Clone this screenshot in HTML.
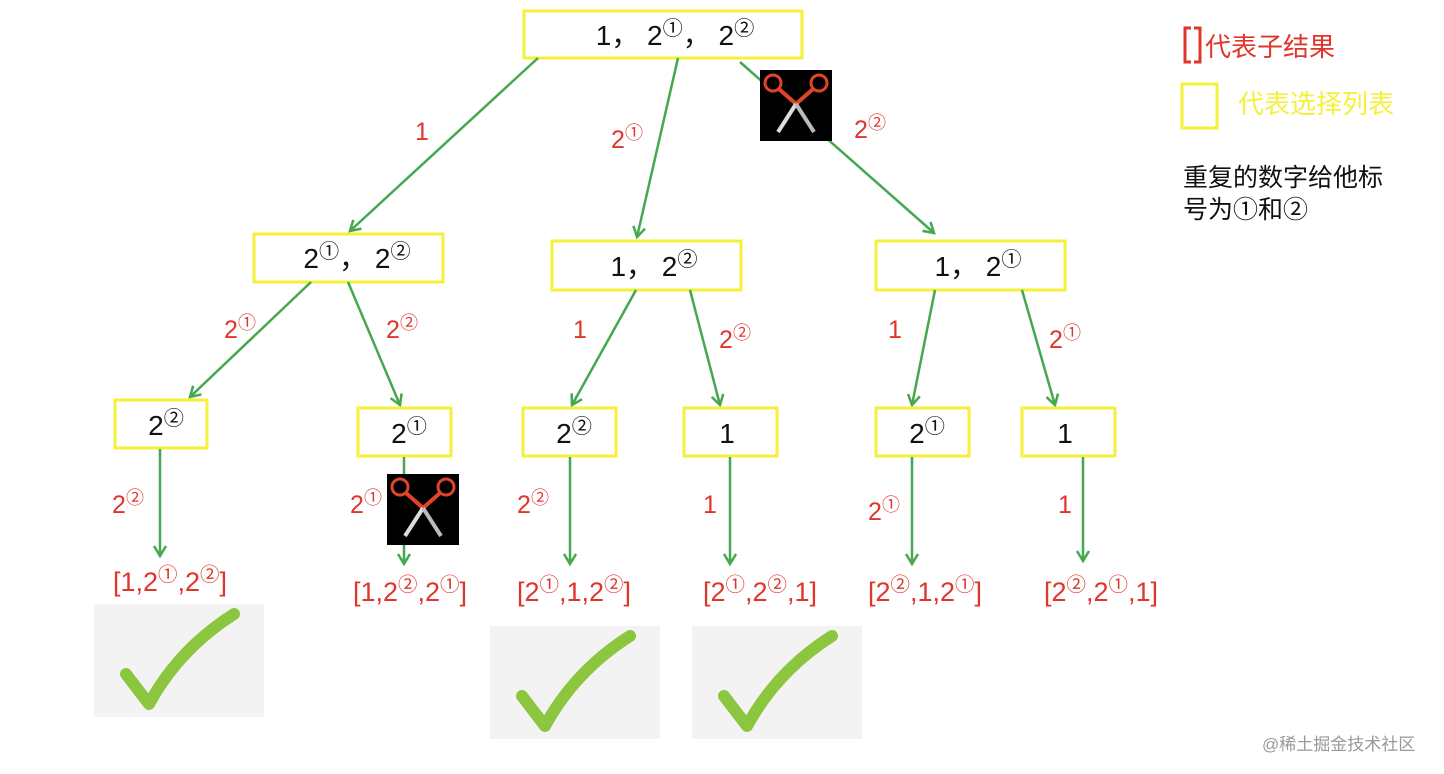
<!DOCTYPE html>
<html><head><meta charset="utf-8"><style>
html,body{margin:0;padding:0;background:#fff;}
svg{display:block;}
text{font-family:"Liberation Sans","Noto Sans CJK SC",sans-serif;}
.b{fill:#fff;stroke:#f5f03a;stroke-width:3;}
.e{stroke:#45a84f;stroke-width:2.5;fill:none;marker-end:url(#ah);}
.t{font-size:28px;fill:#111;text-anchor:middle;}
.l{font-size:25px;fill:#e0352b;text-anchor:middle;}
.r{font-size:27px;fill:#e0352b;text-anchor:middle;}
.s{font-size:72%;font-family:"Noto Sans CJK SC",sans-serif;}
</style></head><body>
<svg width="1444" height="774" viewBox="0 0 1444 774" xmlns="http://www.w3.org/2000/svg">
<defs>
<marker id="ah" markerWidth="16" markerHeight="16" refX="12" refY="8" orient="auto" markerUnits="userSpaceOnUse">
<path d="M2,2 L12,8 L2,14" fill="none" stroke="#45a84f" stroke-width="2.5"/>
</marker>
<g id="sc">
<rect x="0" y="0" width="72" height="71" fill="#000"/>
<circle cx="13" cy="13" r="8" fill="none" stroke="#e0442b" stroke-width="3"/>
<circle cx="59" cy="13" r="8" fill="none" stroke="#e0442b" stroke-width="3"/>
<line x1="19" y1="19" x2="36" y2="34" stroke="#e0442b" stroke-width="4"/>
<line x1="53" y1="19" x2="36" y2="34" stroke="#e0442b" stroke-width="4"/>
<line x1="36" y1="34" x2="18" y2="62" stroke="#ddd" stroke-width="4"/>
<line x1="36" y1="34" x2="54" y2="62" stroke="#bbb" stroke-width="4"/>
</g>
<g id="ck">
<rect x="0" y="0" width="170" height="113" fill="#f3f3f3"/>
<path d="M32,70 L55,100 Q85,45 140,10" fill="none" stroke="#8cc63f" stroke-width="12" stroke-linecap="round" stroke-linejoin="round"/>
</g>
</defs>

<rect class="b" x="524" y="11" width="278" height="47"/>
<text class="t" x="675" y="45">1， 2<tspan class="s" dy="-10">①</tspan><tspan dy="10">， 2</tspan><tspan class="s" dy="-10">②</tspan></text>

<line class="e" x1="538" y1="58" x2="350" y2="231"/>
<line class="e" x1="678" y1="58" x2="637" y2="237"/>
<line class="e" x1="740" y1="62" x2="934" y2="233"/>
<text class="l" x="422" y="140">1</text>
<text class="l" x="627" y="148">2<tspan class="s" dy="-9">①</tspan></text>
<text class="l" x="870" y="138">2<tspan class="s" dy="-9">②</tspan></text>
<use href="#sc" x="760" y="70"/>

<rect class="b" x="254" y="234" width="189" height="48"/>
<text class="t" x="357" y="268">2<tspan class="s" dy="-10">①</tspan><tspan dy="10">， 2</tspan><tspan class="s" dy="-10">②</tspan></text>
<rect class="b" x="552" y="241" width="189" height="49"/>
<text class="t" x="654" y="276">1，  2<tspan class="s" dy="-10">②</tspan></text>
<rect class="b" x="876" y="241" width="189" height="49"/>
<text class="t" x="978" y="276">1，  2<tspan class="s" dy="-10">①</tspan></text>

<line class="e" x1="311" y1="282" x2="190" y2="397"/>
<line class="e" x1="348" y1="282" x2="400" y2="405"/>
<line class="e" x1="636" y1="290" x2="572" y2="405"/>
<line class="e" x1="690" y1="290" x2="720" y2="405"/>
<line class="e" x1="935" y1="290" x2="912" y2="405"/>
<line class="e" x1="1022" y1="290" x2="1055" y2="405"/>
<text class="l" x="240" y="338">2<tspan class="s" dy="-9">①</tspan></text>
<text class="l" x="402" y="338">2<tspan class="s" dy="-9">②</tspan></text>
<text class="l" x="580" y="338">1</text>
<text class="l" x="735" y="348">2<tspan class="s" dy="-9">②</tspan></text>
<text class="l" x="895" y="338">1</text>
<text class="l" x="1065" y="348">2<tspan class="s" dy="-9">①</tspan></text>

<rect class="b" x="115" y="400" width="92" height="48"/>
<text class="t" x="166" y="435">2<tspan class="s" dy="-10">②</tspan></text>
<rect class="b" x="358" y="408" width="93" height="48"/>
<text class="t" x="409" y="443">2<tspan class="s" dy="-10">①</tspan></text>
<rect class="b" x="523" y="408" width="93" height="48"/>
<text class="t" x="574" y="443">2<tspan class="s" dy="-10">②</tspan></text>
<rect class="b" x="684" y="408" width="93" height="48"/>
<text class="t" x="727" y="443">1</text>
<rect class="b" x="876" y="408" width="93" height="48"/>
<text class="t" x="927" y="443">2<tspan class="s" dy="-10">①</tspan></text>
<rect class="b" x="1022" y="408" width="93" height="48"/>
<text class="t" x="1065" y="443">1</text>

<line class="e" x1="160" y1="449" x2="160" y2="556"/>
<line class="e" x1="404" y1="457" x2="404" y2="564"/>
<line class="e" x1="570" y1="457" x2="570" y2="564"/>
<line class="e" x1="730" y1="457" x2="730" y2="564"/>
<line class="e" x1="912" y1="457" x2="912" y2="564"/>
<line class="e" x1="1083" y1="457" x2="1083" y2="561"/>
<text class="l" x="128" y="513">2<tspan class="s" dy="-9">②</tspan></text>
<text class="l" x="366" y="513">2<tspan class="s" dy="-9">①</tspan></text>
<text class="l" x="533" y="513">2<tspan class="s" dy="-9">②</tspan></text>
<text class="l" x="710" y="513">1</text>
<text class="l" x="884" y="520">2<tspan class="s" dy="-9">①</tspan></text>
<text class="l" x="1065" y="513">1</text>
<use href="#sc" x="387" y="474"/>

<text class="r" x="170" y="591">[1,2<tspan class="s" dy="-10">①</tspan><tspan dy="10">,2</tspan><tspan class="s" dy="-10">②</tspan><tspan dy="10">]</tspan></text>
<text class="r" x="410" y="601">[1,2<tspan class="s" dy="-10">②</tspan><tspan dy="10">,2</tspan><tspan class="s" dy="-10">①</tspan><tspan dy="10">]</tspan></text>
<text class="r" x="574" y="601">[2<tspan class="s" dy="-10">①</tspan><tspan dy="10">,1,2</tspan><tspan class="s" dy="-10">②</tspan><tspan dy="10">]</tspan></text>
<text class="r" x="760" y="601">[2<tspan class="s" dy="-10">①</tspan><tspan dy="10">,2</tspan><tspan class="s" dy="-10">②</tspan><tspan dy="10">,1]</tspan></text>
<text class="r" x="925" y="601">[2<tspan class="s" dy="-10">②</tspan><tspan dy="10">,1,2</tspan><tspan class="s" dy="-10">①</tspan><tspan dy="10">]</tspan></text>
<text class="r" x="1101" y="601">[2<tspan class="s" dy="-10">②</tspan><tspan dy="10">,2</tspan><tspan class="s" dy="-10">①</tspan><tspan dy="10">,1]</tspan></text>

<use href="#ck" x="94" y="604"/>
<use href="#ck" x="490" y="626"/>
<use href="#ck" x="692" y="626"/>

<path d="M1191,28 L1185,28 L1185,62 L1191,62 M1194,28 L1200,28 L1200,62 L1194,62" fill="none" stroke="#e0352b" stroke-width="3"/>
<text x="1205" y="56" style="font-size:26px;fill:#e0352b;">代表子结果</text>
<rect x="1182" y="84" width="35" height="44" fill="none" stroke="#f5f03a" stroke-width="3"/>
<text x="1238" y="113" style="font-size:26px;fill:#f5f03a;">代表选择列表</text>
<text x="1183" y="186" style="font-size:25px;fill:#111;">重复的数字给他标</text>
<text x="1183" y="218" style="font-size:25px;fill:#111;">号为①和②</text>

<text x="1262" y="750" style="font-size:17px;fill:#999;">@稀土掘金技术社区</text>
</svg>
</body></html>
